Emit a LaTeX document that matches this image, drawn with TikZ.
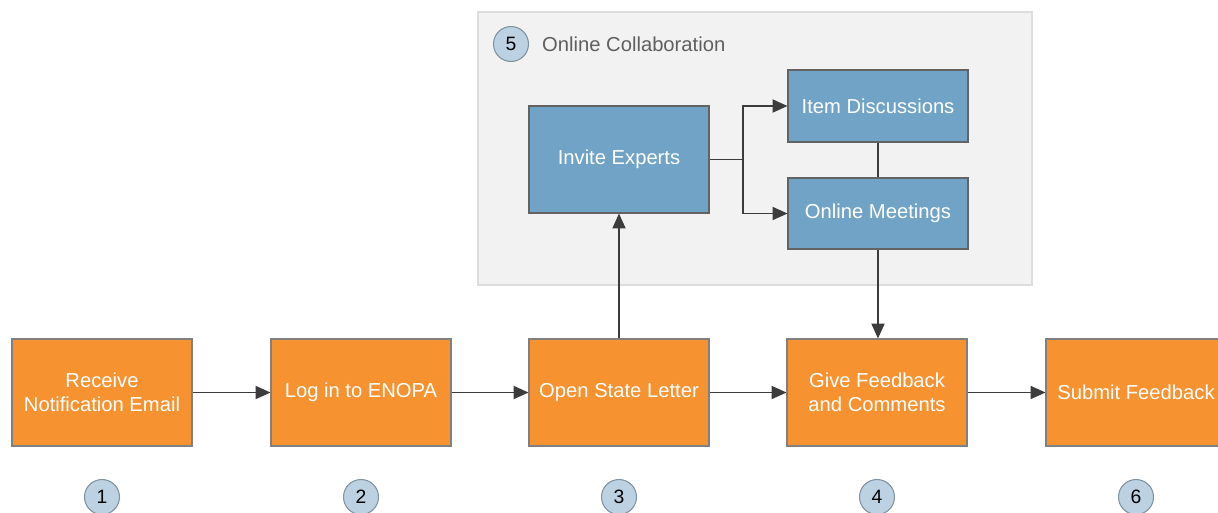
\documentclass[tikz,border=0pt]{standalone}
\usepackage{fontspec}
\setmainfont{Liberation Sans}
\usetikzlibrary{positioning, shapes, arrows.meta}
\definecolor{stepOrange}{RGB}{246,146,48}
\definecolor{collabBlue}{RGB}{112,163,197}
\definecolor{panelGray}{RGB}{242,242,242}
\definecolor{panelLine}{RGB}{221,221,221}
\definecolor{numFill}{RGB}{188,210,226}
\definecolor{numLine}{RGB}{128,146,160}
\definecolor{flowLine}{RGB}{60,60,60}
\definecolor{labelGray}{RGB}{95,95,95}

\begin{document}
\begin{tikzpicture}[font=\fontsize{11.5}{13.7}\selectfont,
  stepbox/.style={rectangle, minimum width=3.6cm, minimum height=2.14cm, align=center, draw=gray, line width=0.6pt, fill=stepOrange, text=white},
  collabbox/.style={rectangle, minimum width=3.6cm, align=center, draw=flowLine!80, line width=0.6pt, fill=collabBlue, text=white},
  numcircle/.style={circle, minimum size=0.7cm, inner sep=0pt, draw=numLine, line width=0.6pt, fill=numFill, font=\fontsize{11}{12}\selectfont},
  flow/.style={line width=0.8pt, draw=flowLine, -{Triangle[length=8.5pt,width=7.5pt]}}]
\useasboundingbox (0,0) rectangle (24.36,-10.24);
\clip (0,0) rectangle (24.36,-10.24);
% collaboration panel
\node[rectangle, draw=panelLine, fill=panelGray, line width=0.8pt, minimum width=11.08cm, minimum height=5.46cm] (panel) at (15.1,-2.97) {};
\node[numcircle] (n5) at (10.22,-0.88) {5};
\node[anchor=west, text=labelGray] (collab) at (10.72,-0.88) {Online Collaboration};
\node[collabbox, minimum height=2.14cm] (invite) at (12.38,-3.19) {Invite Experts};
\node[collabbox, minimum height=1.44cm] (items) at (17.56,-2.12) {Item Discussions};
\node[collabbox, minimum height=1.42cm] (meetings) at (17.56,-4.27) {Online Meetings};
% main steps
\node[stepbox] (receive) at (2.04,-7.85) {Receive\\Notification Email};
\node[stepbox] (login) at (7.22,-7.85) {Log in to ENOPA};
\node[stepbox] (open) at (12.38,-7.85) {Open State Letter};
\node[stepbox] (feedback) at (17.54,-7.85) {Give Feedback\\and Comments};
\node[stepbox] (submit) at (22.72,-7.85) {Submit Feedback};
% step numbers
\node[numcircle] (n1) at (2.04,-9.94) {1};
\node[numcircle] (n2) at (7.22,-9.94) {2};
\node[numcircle] (n3) at (12.38,-9.94) {3};
\node[numcircle] (n4) at (17.54,-9.94) {4};
\node[numcircle] (n6) at (22.72,-9.94) {6};
% connectors
\coordinate (split) at (14.86,-3.19);
\draw[flow] (receive) -- (login);
\draw[flow] (login) -- (open);
\draw[flow] (open) -- (feedback);
\draw[flow] (feedback) -- (submit);
\draw[flow] (open) -- (invite);
\draw[line width=0.8pt, draw=flowLine] (invite) -- (split);
\draw[flow] (split) |- (items);
\draw[flow] (split) |- (meetings);
\draw[line width=0.8pt, draw=flowLine] (items) -- (meetings);
\draw[flow] (meetings.south) -- (meetings.south |- feedback.north);
\end{tikzpicture}
\end{document}
